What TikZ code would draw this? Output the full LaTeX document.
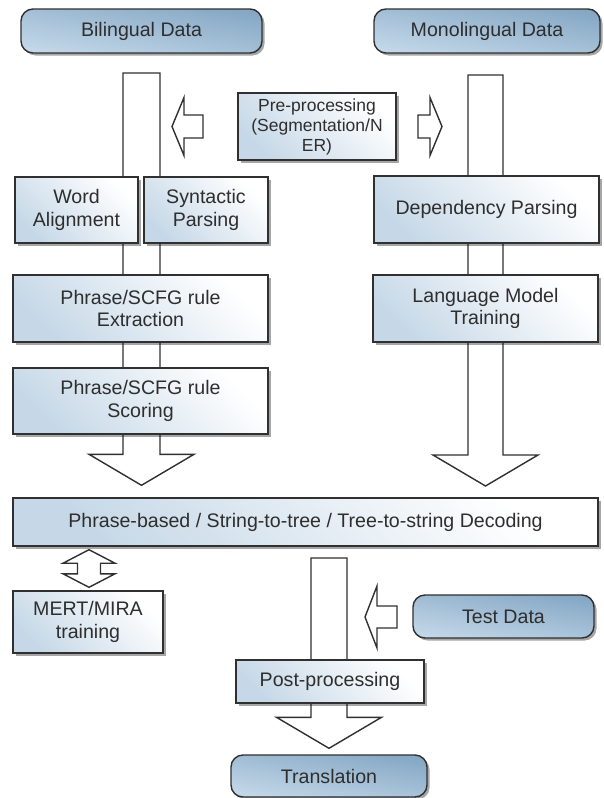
\documentclass[tikz,border=0pt]{standalone}
\usepackage{fontspec}
\setmainfont{Liberation Sans}
\usetikzlibrary{shadows,calc,backgrounds}
\definecolor{edge}{HTML}{303030}
\definecolor{txt}{HTML}{2E2E2E}
\definecolor{boxtint}{HTML}{C6D8E7}
\definecolor{datatop}{HTML}{C2D7E8}
\definecolor{databot}{HTML}{86A8C5}
\tikzset{
  base/.style={draw=edge, line width=1.4pt, text=txt, align=center, inner sep=2pt,
    font=\fontsize{19.6}{22.5}\selectfont,
    drop shadow={shadow xshift=2.5pt, shadow yshift=-2.5pt, opacity=0.35, fill=black}},
  procbox/.style={base, rectangle, top color=boxtint, bottom color=white, shading angle=135},
  databox/.style={base, rounded corners=12pt, top color=datatop, bottom color=databot, shading angle=170},
  blk/.style={draw=edge, line width=1.4pt, fill=white, line join=miter},
}
% block arrow macros: first point, second point, shaft half width, head half width, head length
\newcommand\blkdown[5]{\draw[blk] let \p1=(#1), \p2=(#2) in
  (\x1-#3,\y1) -- (\x1+#3,\y1) -- (\x1+#3,\y2+#5) -- (\x1+#4,\y2+#5) -- (\x2,\y2)
  -- (\x1-#4,\y2+#5) -- (\x1-#3,\y2+#5) -- cycle;}
\newcommand\blkleft[5]{\draw[blk] let \p1=(#1), \p2=(#2) in
  (\x1,\y1+#3) -- (\x2+#5,\y1+#3) -- (\x2+#5,\y1+#4) -- (\x2,\y2) -- (\x2+#5,\y1-#4)
  -- (\x2+#5,\y1-#3) -- (\x1,\y1-#3) -- cycle;}
\newcommand\blkright[5]{\draw[blk] let \p1=(#1), \p2=(#2) in
  (\x1,\y1+#3) -- (\x2-#5,\y1+#3) -- (\x2-#5,\y1+#4) -- (\x2,\y2) -- (\x2-#5,\y1-#4)
  -- (\x2-#5,\y1-#3) -- (\x1,\y1-#3) -- cycle;}
\newcommand\blkboth[5]{\draw[blk] let \p1=(#1), \p2=(#2) in
  (\x1,\y1) -- (\x1+#4,\y1-#5) -- (\x1+#3,\y1-#5) -- (\x1+#3,\y2+#5) -- (\x1+#4,\y2+#5)
  -- (\x2,\y2) -- (\x1-#4,\y2+#5) -- (\x1-#3,\y2+#5) -- (\x1-#3,\y1-#5) -- (\x1-#4,\y1-#5) -- cycle;}
\begin{document}
\begin{tikzpicture}[x=1pt,y=-1pt]
\useasboundingbox (0,0) rectangle (604,798);

% nodes
\node[databox, minimum width=241pt, minimum height=44pt] (bil) at (141.5,31) {Bilingual Data};
\node[databox, minimum width=226pt, minimum height=44pt] (mono) at (487,31) {Monolingual Data};
\node[procbox, minimum width=158pt, minimum height=67pt, font=\fontsize{17.5}{20}\selectfont] (pre) at (317,126.5) {Pre-processing\\(Segmentation/N\\ER)};
\node[procbox, minimum width=123pt, minimum height=66pt] (wa) at (76.5,210) {Word\\Alignment};
\node[procbox, minimum width=124pt, minimum height=66pt] (sp) at (206,210) {Syntactic\\Parsing};
\node[procbox, minimum width=225pt, minimum height=67pt] (dp) at (486.5,209.5) {Dependency Parsing};
\node[procbox, minimum width=255pt, minimum height=67pt] (ext) at (140.5,308.5) {Phrase/SCFG rule\\Extraction};
\node[procbox, minimum width=225pt, minimum height=67pt] (lm) at (485.5,308.5) {Language Model\\Training};
\node[procbox, minimum width=255pt, minimum height=66pt] (sco) at (140.5,401) {Phrase/SCFG rule\\Scoring};
\node[procbox, minimum width=585pt, minimum height=48pt] (dec) at (305.5,522) {Phrase-based / String-to-tree / Tree-to-string Decoding};
\node[procbox, minimum width=150pt, minimum height=62pt] (mert) at (88,622) {MERT/MIRA\\training};
\node[databox, minimum width=181pt, minimum height=43pt] (test) at (503.5,616.5) {Test Data};
\node[procbox, minimum width=188pt, minimum height=43pt] (post) at (330,681.5) {Post-processing};
\node[databox, minimum width=196pt, minimum height=42pt] (trans) at (329,776) {Translation};

% arrow end points
\coordinate (ltop) at (141.5,73);  \coordinate (ltip) at ($(dec.north)+(-164,-12)$);
\coordinate (rtop) at (485.5,75);  \coordinate (rtip) at (485.5,486);
\coordinate (mtop) at (329,558);   \coordinate (mtip) at ($(trans.north)+(0,-6)$);
\coordinate (pltail) at (203,126.5); \coordinate (pltip) at (172,126.5);
\coordinate (prtail) at (418,126.5); \coordinate (prtip) at (442,126.5);
\coordinate (tltail) at (397,617);   \coordinate (tltip) at (365,617);
\coordinate (dbtop) at ($(dec.south)+(-216.5,3)$);
\coordinate (dbbot) at ($(mert.north)+(1,-3)$);

\begin{pgfonlayer}{background}
  \fill[white] (0,0) rectangle (604,798);
  \blkdown{ltop}{ltip}{18.5pt}{52.5pt}{31pt}
  \blkdown{rtop}{rtip}{17.5pt}{52.5pt}{31pt}
  \blkdown{mtop}{mtip}{18pt}{52.5pt}{31pt}
\end{pgfonlayer}
\blkleft{pltail}{pltip}{11.5pt}{29pt}{12pt}
\blkright{prtail}{prtip}{11.5pt}{29pt}{12pt}
\blkleft{tltail}{tltip}{11pt}{31pt}{12pt}
\blkboth{dbtop}{dbbot}{11.5pt}{26pt}{13.5pt}
\end{tikzpicture}
\end{document}
